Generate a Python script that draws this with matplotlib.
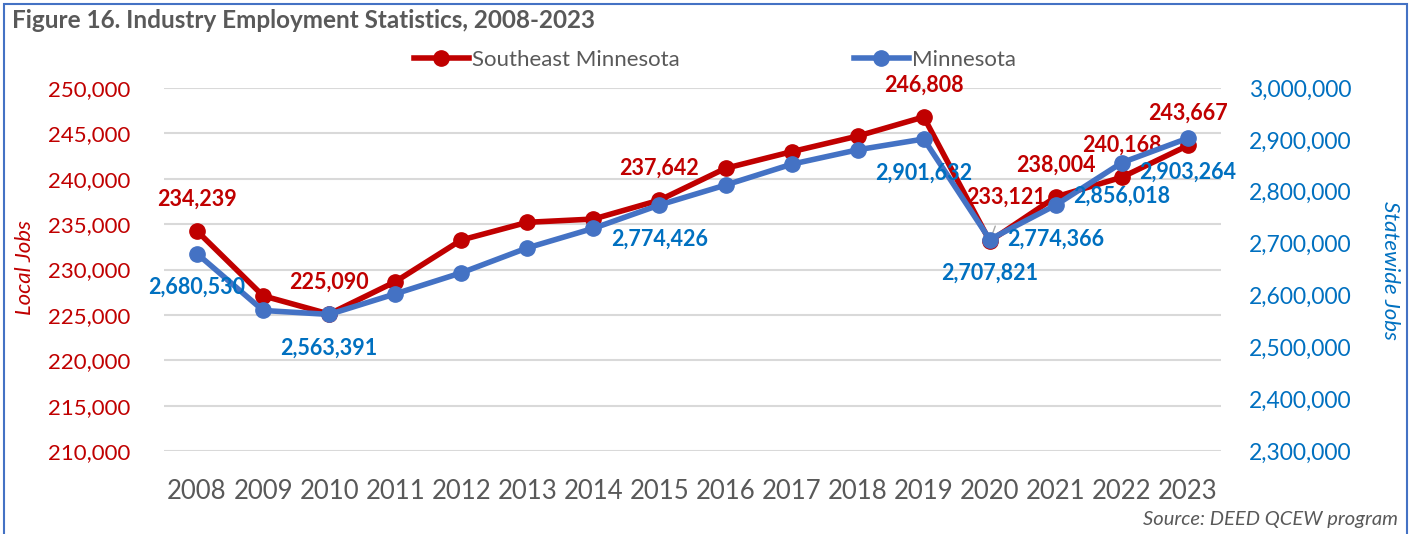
import matplotlib.pyplot as plt
from matplotlib.patches import Rectangle
from matplotlib.ticker import FuncFormatter

years = [str(y) for y in range(2008, 2024)]

# local jobs (left axis)
southeast_jobs = [234239, 227100, 225090, 228650, 233250, 235200, 235560, 237642,
                  241150, 242980, 244700, 246808, 233121, 238004, 240168, 243667]

# statewide jobs (right axis)
minnesota_jobs = [2680530, 2571000, 2563391, 2603000, 2643600, 2691700, 2729400, 2774426,
                  2812800, 2853000, 2880800, 2901632, 2707821, 2774366, 2856018, 2903264]

# years that carry a data label
labeled_idx = [0, 2, 7, 11, 12, 13, 14, 15]

RED = "#C00000"
BLUE_LINE = "#4472C4"
BLUE_TEXT = "#0070C0"
GRAY = "#595959"

plt.rcParams["font.family"] = ["Lato", "DejaVu Sans"]

fig = plt.figure(figsize=(14.19, 5.34), dpi=100)
ax = fig.add_axes([164 / 1419, 83 / 534, 1057 / 1419, 363 / 534])
ax2 = ax.twinx()

x = list(range(len(years)))

ax.plot(x, southeast_jobs, color=RED, lw=4, marker="o", ms=11,
        label="Southeast Minnesota", clip_on=False, zorder=3)
ax2.plot(x, minnesota_jobs, color=BLUE_LINE, lw=4, marker="o", ms=11,
         label="Minnesota", clip_on=False, zorder=3)

ax.set_xlim(-0.5, len(years) - 0.5)
ax.set_ylim(210000, 250000)
ax.set_yticks(range(210000, 250001, 5000))
ax2.set_ylim(2300000, 3000000)
ax2.set_yticks(range(2300000, 3000001, 100000))

fmt = FuncFormatter(lambda v, p: f"{int(v):,}")
ax.yaxis.set_major_formatter(fmt)
ax2.yaxis.set_major_formatter(fmt)

ax.set_xticks(x)
ax.set_xticklabels(years, fontsize=18.5, color=GRAY)
ax.tick_params(axis="x", length=0, pad=20)
ax.tick_params(axis="y", length=0, labelsize=16, labelcolor=RED, pad=24)
ax2.tick_params(axis="y", length=0, labelsize=16.5, labelcolor=BLUE_TEXT, pad=20)

ax.grid(axis="y", color="#D9D9D9", lw=1.5)
ax.set_axisbelow(True)
for s in ax.spines.values():
    s.set_visible(False)
for s in ax2.spines.values():
    s.set_visible(False)

# data labels
for i in labeled_idx:
    if i == 12:
        ax.annotate(f"{southeast_jobs[i]:,}", (x[i], southeast_jobs[i]),
                    xytext=(16, 44), textcoords="offset pixels", ha="center", va="center",
                    color=RED, fontsize=15.5, fontweight="bold", zorder=5,
                    arrowprops=dict(arrowstyle="-", color="#A6A6A6", lw=1,
                                    shrinkA=12, shrinkB=0))
    else:
        ax.annotate(f"{southeast_jobs[i]:,}", (x[i], southeast_jobs[i]),
                    xytext=(0, 32), textcoords="offset pixels", ha="center", va="center",
                    color=RED, fontsize=15.5, fontweight="bold", zorder=5)
    ax2.annotate(f"{minnesota_jobs[i]:,}", (x[i], minnesota_jobs[i]),
                 xytext=(0, -34), textcoords="offset pixels", ha="center", va="center",
                 color=BLUE_TEXT, fontsize=15.5, fontweight="bold", zorder=5)

fig.text(25 / 1419, 1 - 268 / 534, "Local Jobs", rotation=90, ha="center", va="center",
         color=RED, fontsize=16, style="italic")
fig.text(1390 / 1419, 1 - 270 / 534, "Statewide Jobs", rotation=270, ha="center", va="center",
         color=BLUE_TEXT, fontsize=16, style="italic")

fig.text(12 / 1419, 1 - 20 / 534, "Figure 16. Industry Employment Statistics, 2008-2023",
         ha="left", va="center", fontsize=17.5, fontweight="bold", color=GRAY)
fig.text(1398 / 1419, 1 - 520 / 534, "Source: DEED QCEW program", ha="right", va="center",
         fontsize=14.5, style="italic", color=GRAY)

h1, l1 = ax.get_legend_handles_labels()
h2, l2 = ax2.get_legend_handles_labels()
fig.legend(h1 + h2, l1 + l2, loc="center", bbox_to_anchor=(715 / 1419, 1 - 60 / 534),
           ncol=2, frameon=False, fontsize=16, labelcolor=GRAY, handlelength=2.5,
           handletextpad=0.15, columnspacing=7.8)

fig.patches.append(Rectangle((4 / 1419, -0.05), 1403 / 1419, 1 - 4 / 534 + 0.05,
                             transform=fig.transFigure, fill=False,
                             edgecolor="#4472C4", lw=1.5))

fig.savefig("out.png", dpi=100)
